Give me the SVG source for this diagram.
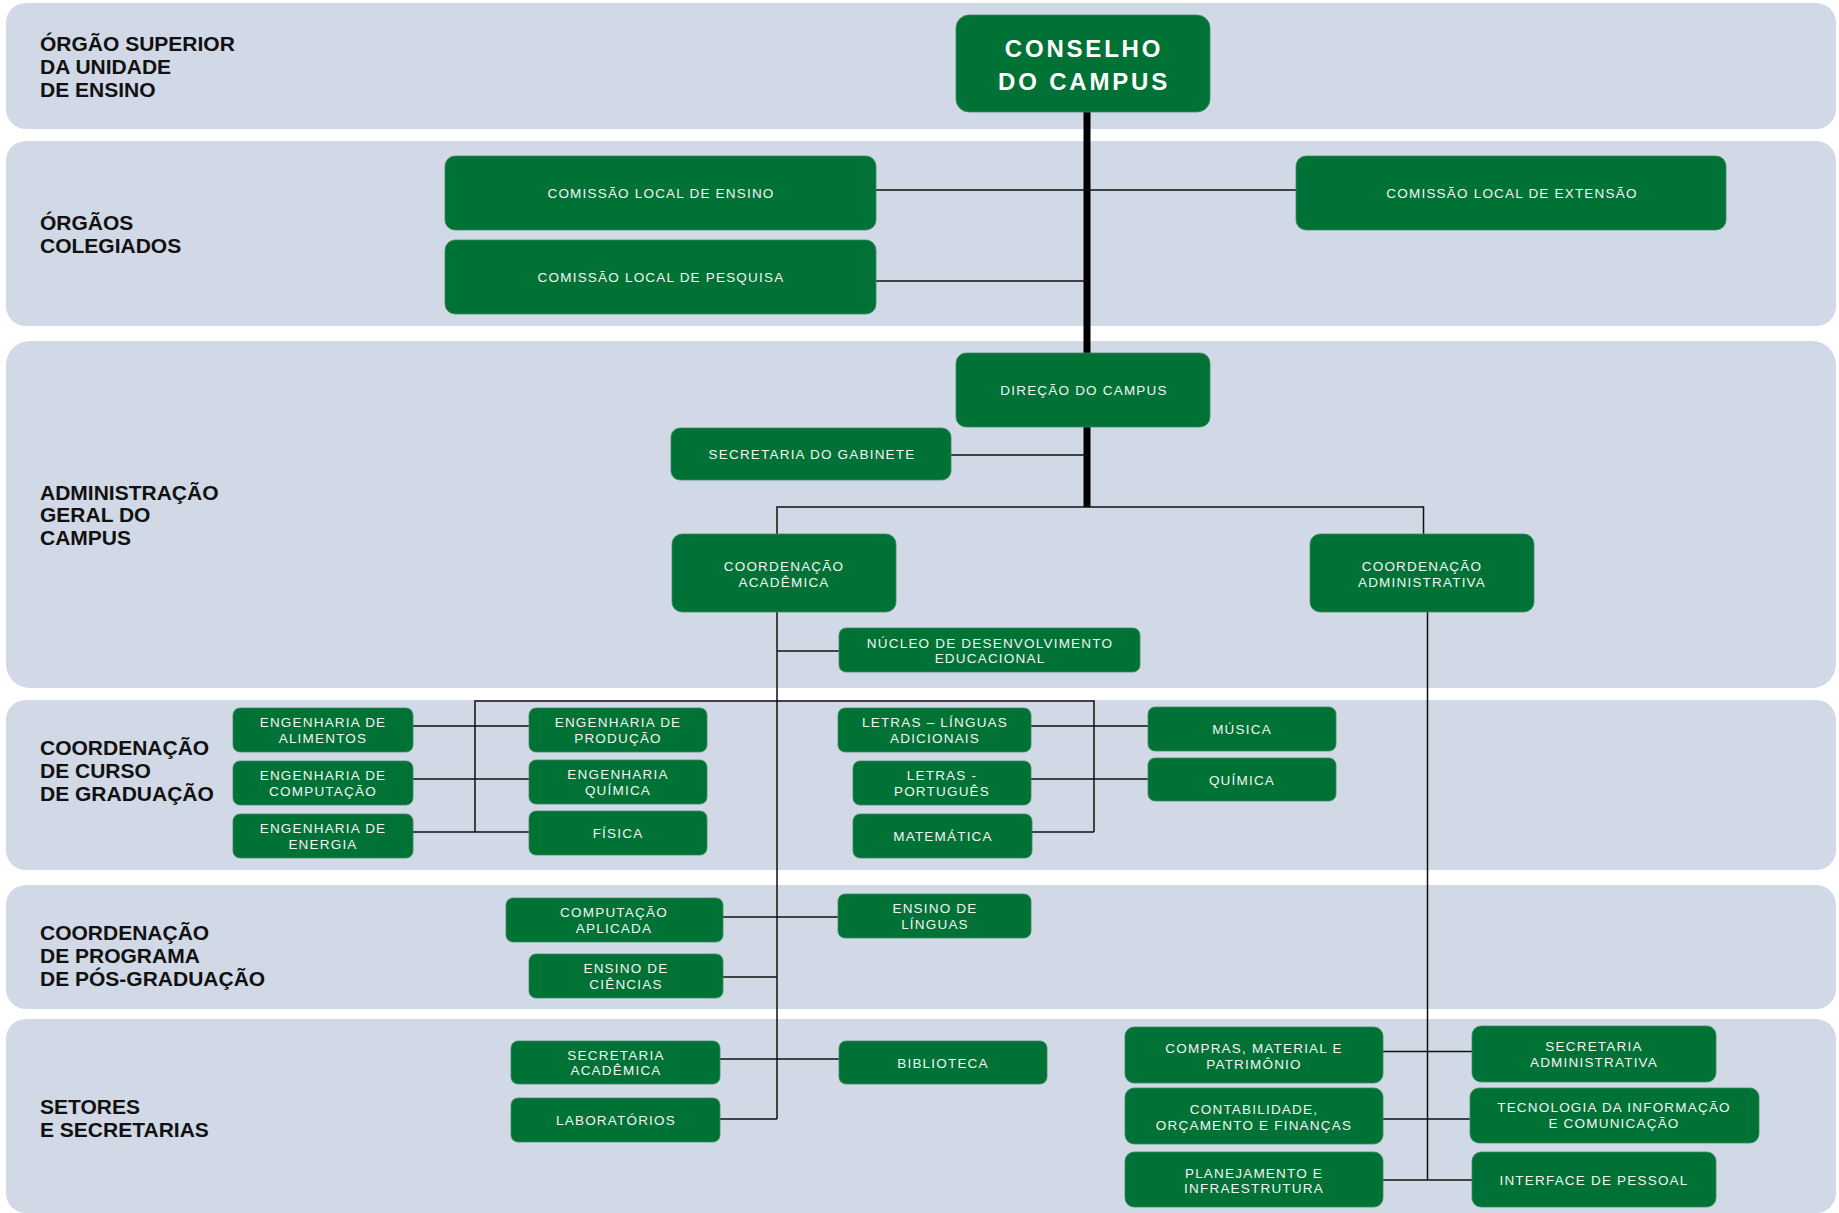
<svg xmlns="http://www.w3.org/2000/svg" width="1839" height="1213" viewBox="0 0 1839 1213">
<style>
.band{fill:#d1d8e6}
.node rect{fill:#007236;stroke:#3d8c62;stroke-width:0.8}
.t{font-family:"Liberation Sans",Arial,sans-serif;font-size:13.5px;letter-spacing:1.2px;fill:#f4f4f4;text-anchor:middle}
.big{font-family:"Liberation Sans",Arial,sans-serif;font-size:24px;font-weight:bold;letter-spacing:2.8px;fill:#ffffff;text-anchor:middle}
.lab{font-family:"Liberation Sans",Arial,sans-serif;font-size:21px;font-weight:bold;fill:#111111}
.c{stroke:#111111;stroke-width:1.5;fill:none}
.trunk{stroke:#000000;stroke-width:7;fill:none}
</style>
<rect width="1839" height="1213" fill="#ffffff"/>
<g id="bands">
<rect class="band" x="6" y="3" width="1830" height="126" rx="20"/>
<rect class="band" x="6" y="141" width="1830" height="185" rx="20"/>
<rect class="band" x="6" y="341" width="1830" height="347" rx="24"/>
<rect class="band" x="6" y="700" width="1830" height="170" rx="20"/>
<rect class="band" x="6" y="885" width="1830" height="124" rx="20"/>
<rect class="band" x="6" y="1019" width="1830" height="194" rx="20"/>
</g>
<g id="labels">
<text class="lab" x="40" y="51">ÓRGÃO SUPERIOR</text>
<text class="lab" x="40" y="74">DA UNIDADE</text>
<text class="lab" x="40" y="97">DE ENSINO</text>
<text class="lab" x="40" y="230">ÓRGÃOS</text>
<text class="lab" x="40" y="253">COLEGIADOS</text>
<text class="lab" x="40" y="500">ADMINISTRAÇÃO</text>
<text class="lab" x="40" y="522">GERAL DO</text>
<text class="lab" x="40" y="545">CAMPUS</text>
<text class="lab" x="40" y="755">COORDENAÇÃO</text>
<text class="lab" x="40" y="778">DE CURSO</text>
<text class="lab" x="40" y="801">DE GRADUAÇÃO</text>
<text class="lab" x="40" y="940">COORDENAÇÃO</text>
<text class="lab" x="40" y="963">DE PROGRAMA</text>
<text class="lab" x="40" y="986">DE PÓS-GRADUAÇÃO</text>
<text class="lab" x="40" y="1114">SETORES</text>
<text class="lab" x="40" y="1137">E SECRETARIAS</text>
</g>
<g id="connectors">
<path class="trunk" d="M1087 110 V507"/>
<path class="c" d="M876 190 H1296 M876 281 H1087 M951 455 H1087"/>
<path class="c" d="M777 534 V507 H1423.5 V534"/>
<path class="c" d="M777 612 V1119 M777 651 H839"/>
<path class="c" d="M475 832 V701 H1094 V832"/>
<path class="c" d="M413 726 H529 M413 779 H529 M413 832 H529"/>
<path class="c" d="M1031 726 H1148 M1031 779 H1148 M1032 832 H1094"/>
<path class="c" d="M723 917 H838 M723 977 H777"/>
<path class="c" d="M720 1059 H839 M720 1119 H777"/>
<path class="c" d="M1427.5 612 V1180"/>
<path class="c" d="M1383 1051.5 H1472 M1383 1119 H1470 M1383 1180 H1472"/>
</g>
<g id="n-conselho" class="node"><rect x="956" y="15" width="254" height="97" rx="13"/><text class="big" x="1084" y="57">CONSELHO</text><text class="big" x="1084" y="90">DO CAMPUS</text></g>
<g id="n-cle" class="node"><rect x="445" y="156" width="431" height="74" rx="10"/><text class="t" x="661" y="198">COMISSÃO LOCAL DE ENSINO</text></g>
<g id="n-clx" class="node"><rect x="1296" y="156" width="430" height="74" rx="10"/><text class="t" x="1512" y="198">COMISSÃO LOCAL DE EXTENSÃO</text></g>
<g id="n-clp" class="node"><rect x="445" y="240" width="431" height="74" rx="10"/><text class="t" x="661" y="282">COMISSÃO LOCAL DE PESQUISA</text></g>
<g id="n-direcao" class="node"><rect x="956" y="353" width="254" height="74" rx="10"/><text class="t" x="1084" y="395">DIREÇÃO DO CAMPUS</text></g>
<g id="n-secgab" class="node"><rect x="671" y="428" width="280" height="52" rx="9"/><text class="t" x="812" y="459">SECRETARIA DO GABINETE</text></g>
<g id="n-coordacad" class="node"><rect x="672" y="534" width="224" height="78" rx="10"/><text class="t" x="784" y="571">COORDENAÇÃO</text><text class="t" x="784" y="587">ACADÊMICA</text></g>
<g id="n-coordadm" class="node"><rect x="1310" y="534" width="224" height="78" rx="10"/><text class="t" x="1422" y="571">COORDENAÇÃO</text><text class="t" x="1422" y="587">ADMINISTRATIVA</text></g>
<g id="n-nucleo" class="node"><rect x="839" y="628" width="301" height="44" rx="7"/><text class="t" x="990" y="647.5">NÚCLEO DE DESENVOLVIMENTO</text><text class="t" x="990" y="663">EDUCACIONAL</text></g>
<g id="n-engalim" class="node"><rect x="233" y="708" width="180" height="44" rx="7"/><text class="t" x="323" y="727">ENGENHARIA DE</text><text class="t" x="323" y="742.5">ALIMENTOS</text></g>
<g id="n-engcomp" class="node"><rect x="233" y="761" width="180" height="44" rx="7"/><text class="t" x="323" y="780">ENGENHARIA DE</text><text class="t" x="323" y="795.5">COMPUTAÇÃO</text></g>
<g id="n-engener" class="node"><rect x="233" y="814" width="180" height="44" rx="7"/><text class="t" x="323" y="833">ENGENHARIA DE</text><text class="t" x="323" y="848.5">ENERGIA</text></g>
<g id="n-engprod" class="node"><rect x="529" y="708" width="178" height="44" rx="7"/><text class="t" x="618" y="727">ENGENHARIA DE</text><text class="t" x="618" y="742.5">PRODUÇÃO</text></g>
<g id="n-engquim" class="node"><rect x="529" y="760" width="178" height="44" rx="7"/><text class="t" x="618" y="779">ENGENHARIA</text><text class="t" x="618" y="794.5">QUÍMICA</text></g>
<g id="n-fisica" class="node"><rect x="529" y="811" width="178" height="44" rx="7"/><text class="t" x="618" y="838">FÍSICA</text></g>
<g id="n-letrasla" class="node"><rect x="838" y="708" width="193" height="44" rx="7"/><text class="t" x="935" y="727">LETRAS – LÍNGUAS</text><text class="t" x="935" y="742.5">ADICIONAIS</text></g>
<g id="n-letrasp" class="node"><rect x="853" y="761" width="178" height="44" rx="7"/><text class="t" x="942" y="780">LETRAS -</text><text class="t" x="942" y="795.5">PORTUGUÊS</text></g>
<g id="n-matematica" class="node"><rect x="853" y="814" width="179" height="44" rx="7"/><text class="t" x="943" y="841">MATEMÁTICA</text></g>
<g id="n-musica" class="node"><rect x="1148" y="707" width="188" height="44" rx="7"/><text class="t" x="1242" y="734">MÚSICA</text></g>
<g id="n-quimica" class="node"><rect x="1148" y="758" width="188" height="43" rx="7"/><text class="t" x="1242" y="784.5">QUÍMICA</text></g>
<g id="n-compapl" class="node"><rect x="506" y="898" width="217" height="44" rx="7"/><text class="t" x="614" y="917">COMPUTAÇÃO</text><text class="t" x="614" y="932.5">APLICADA</text></g>
<g id="n-enscien" class="node"><rect x="529" y="954" width="194" height="44" rx="7"/><text class="t" x="626" y="973">ENSINO DE</text><text class="t" x="626" y="988.5">CIÊNCIAS</text></g>
<g id="n-ensling" class="node"><rect x="838" y="894" width="193" height="44" rx="7"/><text class="t" x="935" y="913">ENSINO DE</text><text class="t" x="935" y="928.5">LÍNGUAS</text></g>
<g id="n-secacad" class="node"><rect x="511" y="1041" width="209" height="43" rx="7"/><text class="t" x="616" y="1059.5">SECRETARIA</text><text class="t" x="616" y="1075">ACADÊMICA</text></g>
<g id="n-lab" class="node"><rect x="511" y="1098" width="209" height="44" rx="7"/><text class="t" x="616" y="1125">LABORATÓRIOS</text></g>
<g id="n-biblioteca" class="node"><rect x="839" y="1041" width="208" height="43" rx="7"/><text class="t" x="943" y="1067.5">BIBLIOTECA</text></g>
<g id="n-compras" class="node"><rect x="1125" y="1027" width="258" height="56" rx="9"/><text class="t" x="1254" y="1053">COMPRAS, MATERIAL E</text><text class="t" x="1254" y="1068.5">PATRIMÔNIO</text></g>
<g id="n-contab" class="node"><rect x="1125" y="1088" width="258" height="56" rx="9"/><text class="t" x="1254" y="1114">CONTABILIDADE,</text><text class="t" x="1254" y="1129.5">ORÇAMENTO E FINANÇAS</text></g>
<g id="n-planej" class="node"><rect x="1125" y="1152" width="258" height="55" rx="9"/><text class="t" x="1254" y="1177.5">PLANEJAMENTO E</text><text class="t" x="1254" y="1193">INFRAESTRUTURA</text></g>
<g id="n-secadm" class="node"><rect x="1472" y="1026" width="244" height="56" rx="9"/><text class="t" x="1594" y="1051">SECRETARIA</text><text class="t" x="1594" y="1066.5">ADMINISTRATIVA</text></g>
<g id="n-ti" class="node"><rect x="1470" y="1088" width="289" height="55" rx="9"/><text class="t" x="1614" y="1112">TECNOLOGIA DA INFORMAÇÃO</text><text class="t" x="1614" y="1127.5">E COMUNICAÇÃO</text></g>
<g id="n-interface" class="node"><rect x="1472" y="1152" width="244" height="55" rx="9"/><text class="t" x="1594" y="1184.5">INTERFACE DE PESSOAL</text></g>
</svg>
